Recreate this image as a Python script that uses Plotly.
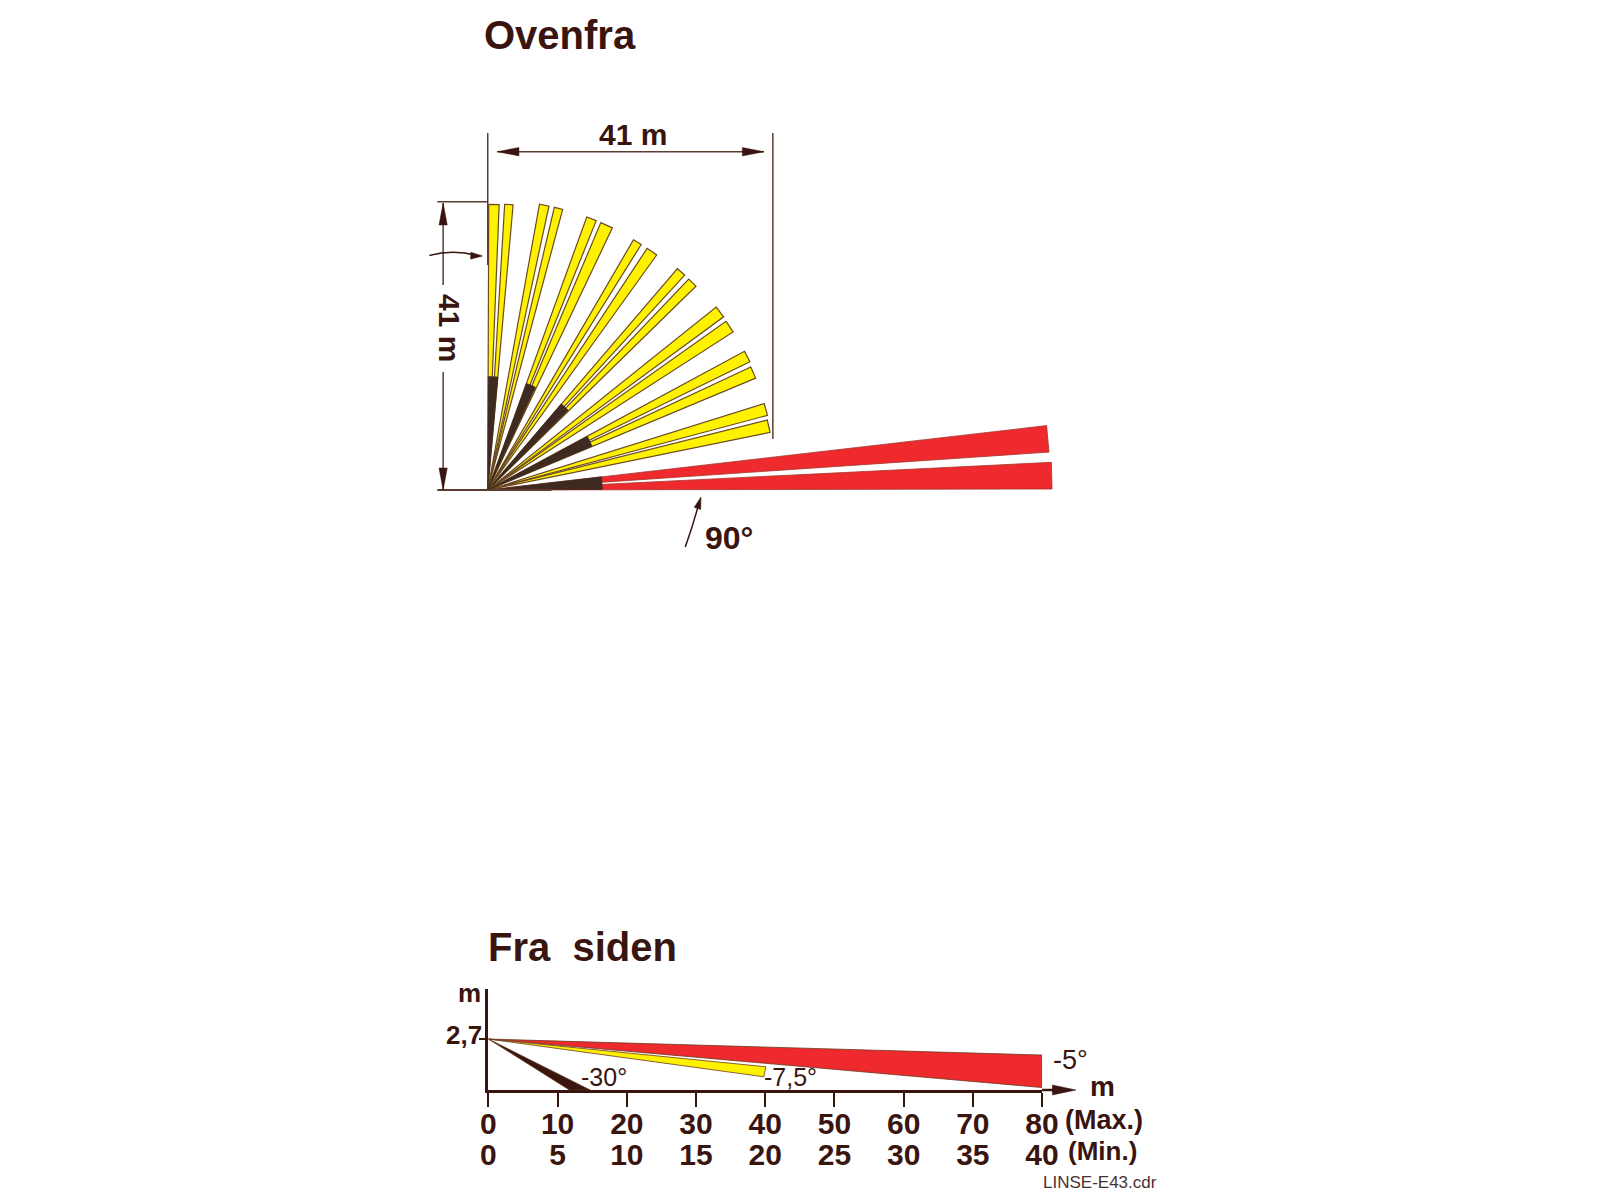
import numpy as np
import plotly.graph_objects as go

# top view: beams as angle from the vertical (deg) and range (m)
YELLOW_START = [0.2, 3.4, 10.3, 13.3, 20.0, 23.0, 30.3, 33.5, 40.7, 43.7, 51.4, 54.8, 61.7, 65.0, 72.7, 76.0]
YELLOW_END = [2.3, 5.1, 12.2, 15.0, 22.0, 25.5, 32.1, 35.8, 42.6, 45.7, 53.8, 57.3, 64.0, 67.4, 75.1, 78.5]
YELLOW_RANGE = [40.5, 40.6, 41.2, 41.2, 41.2, 41.2, 41.1, 41.1, 41.4, 41.4, 41.6, 41.5, 41.5, 41.3, 41.2, 41.0]
RED_START = [83.45, 87.2]
RED_END = [86.15, 89.9]
RED_RANGE = [80.05, 80.3]
DARK_START = [0.2, 20.0, 40.6, 61.8, 83.4]
DARK_END = [5.2, 25.0, 45.4, 67.3, 89.7]
DARK_RANGE = [16.1, 16.1, 16.1, 16.1, 16.3]

# side view: beam outlines in m
SIDE_RED_X = [0, 80, 80]
SIDE_RED_Y = [2.7, 1.85, 0.13]
SIDE_YELLOW_X = [0, 40.1, 39.8]
SIDE_YELLOW_Y = [2.7, 1.23, 0.7]
SIDE_DARK_X = [0, 14.7, 11.7]
SIDE_DARK_Y = [2.7, 0, 0]

MAX_TICKS = [0, 10, 20, 30, 40, 50, 60, 70, 80]
MIN_TICKS = [0, 5, 10, 15, 20, 25, 30, 35, 40]

INK = '#3a1510'
DIM = '#5c3b30'
YELLOW = '#fff200'
RED = '#ee2a2e'
DARK = '#3e2a20'
FONT = 'Liberation Sans'

# the page body has an 8px margin, so everything is placed in page pixels
PAD = 8
W = 1584
H = 1184
OX, OY = 487.3, 490
M_PX_X = 7.14
M_PX_Y = 7.05


def fx(x):
    return (x - PAD) / W


def fy(y):
    return 1 - (y - PAD) / H


def wedge(start, end, r):
    a = np.radians([start, end])
    return [0, r * np.sin(a[0]), r * np.sin(a[1]), 0], [0, r * np.cos(a[0]), r * np.cos(a[1]), 0]


fig = go.Figure()


def add_wedges(starts, ends, ranges, fill, edge, width):
    for s, e, r in zip(starts, ends, ranges):
        x, y = wedge(s, e, r)
        fig.add_trace(go.Scatter(x=x, y=y, mode='lines', fill='toself', fillcolor=fill,
                                 line=dict(color=edge, width=width), hoverinfo='skip'))


add_wedges(YELLOW_START, YELLOW_END, YELLOW_RANGE, YELLOW, '#6b4a20', 1.2)
add_wedges(RED_START, RED_END, RED_RANGE, RED, '#a5342a', 0.8)
add_wedges(DARK_START, DARK_END, DARK_RANGE, DARK, DARK, 0.6)

for sx, sy, fill in [(SIDE_RED_X, SIDE_RED_Y, RED), (SIDE_YELLOW_X, SIDE_YELLOW_Y, YELLOW), (SIDE_DARK_X, SIDE_DARK_Y, INK)]:
    fig.add_trace(go.Scatter(x=sx + sx[:1], y=sy + sy[:1], xaxis='x2', yaxis='y2', mode='lines', fill='toself',
                             fillcolor=fill, line=dict(color='#6b3a20', width=0.8), hoverinfo='skip'))

# keeps the second scale (Min.) on the page
fig.add_trace(go.Scatter(x=MIN_TICKS, y=[0] * len(MIN_TICKS), xaxis='x3', yaxis='y2', mode='markers',
                         marker=dict(opacity=0), hoverinfo='skip'))


def line(x0, y0, x1, y1, color=DIM, width=1.5):
    return dict(type='line', xref='paper', yref='paper', x0=fx(x0), y0=fy(y0), x1=fx(x1), y1=fy(y1),
                line=dict(color=color, width=width))


def head(tx, ty, dx, dy, length=22, half=4.2, color=INK):
    # narrow filled arrow head, tip at (tx, ty), pointing along (dx, dy)
    bx, by = tx - dx * length, ty - dy * length
    pts = [(tx, ty), (bx - dy * half, by + dx * half), (bx + dy * half, by - dx * half)]
    path = 'M ' + ' L '.join(f'{fx(a):.5f},{fy(b):.5f}' for a, b in pts) + ' Z'
    return dict(type='path', xref='paper', yref='paper', path=path, fillcolor=color, line=dict(color=color, width=0.5))


arc = f'M {fx(428):.5f},{fy(255.5):.5f} Q {fx(452):.5f},{fy(249):.5f} {fx(476):.5f},{fy(255.5):.5f}'
curve = f'M {fx(688):.5f},{fy(547):.5f} Q {fx(696):.5f},{fy(525):.5f} {fx(702):.5f},{fy(503):.5f}'

shapes = [
    line(487.3, 133, 487.3, 265),
    line(777, 133, 777, 439),
    line(436, 201.7, 487.3, 201.7),
    line(436, 490, 552, 490, width=2),
    line(497, 151.7, 768, 151.7),
    line(442, 203, 442, 285),
    line(442, 372, 442, 490),
    head(497, 151.7, -1, 0),
    head(768, 151.7, 1, 0),
    head(442, 203, 0, -1),
    head(442, 490, 0, 1),
    dict(type='path', xref='paper', yref='paper', path=arc, line=dict(color=INK, width=1.5)),
    head(482, 256, 1, 0.03, length=12, half=3.5),
    dict(type='path', xref='paper', yref='paper', path=curve, line=dict(color=INK, width=1.5)),
    head(704, 497, 0.3, -0.95, length=12, half=3.5),
    # x axis runs on past 80 into an arrow
    line(1050.5, 1090, 1068, 1090, color=INK, width=2.5),
    head(1085, 1090, 1, 0, length=24, half=5),
]


def label(text, x, y, size, bold=True, angle=0, anchor='center', color=INK):
    return dict(text=f'<b>{text}</b>' if bold else text, x=fx(x), y=fy(y), xref='paper', yref='paper',
                showarrow=False, xanchor=anchor, yanchor='middle', textangle=angle,
                font=dict(family=FONT, size=size, color=color))


annotations = [
    label('Ovenfra', 481, 35, 40, anchor='left'),
    label('Fra\u00a0\u00a0siden', 486, 947, 40, anchor='left'),
    label('41\u00a0m', 635, 135, 30),
    label('41\u00a0m', 449, 328, 30, angle=90),
    label('90°', 732, 538, 32),
    label('m', 469, 993, 26),
    label('2,7', 483, 1035, 26, anchor='right'),
    label('m', 1112, 1086, 28),
    label('-5°', 1079, 1060, 27, bold=False),
    label('-7,5°', 795, 1077, 25, bold=False),
    label('-30°', 605, 1077, 25, bold=False),
    label('(Max.)', 1113, 1120, 27),
    label('(Min.)', 1112, 1151, 26),
    label('LINSE-E43.cdr', 1109, 1182, 17, bold=False, color='#4a3030'),
]

tick_font = dict(family=FONT, size=30, color=INK)
x_dom = [fx(488), fx(1050.5)]
y_dom = [fy(1090), fy(989)]

fig.update_layout(
    width=W,
    height=H,
    margin=dict(l=0, r=0, t=0, b=0),
    paper_bgcolor='white',
    plot_bgcolor='white',
    showlegend=False,
    font=dict(family=FONT, color=INK),
    shapes=shapes,
    annotations=annotations,
    xaxis=dict(visible=False, domain=[0, 1], range=[(PAD - OX) / M_PX_X, (PAD + W - OX) / M_PX_X]),
    yaxis=dict(visible=False, domain=[0, 1], range=[(OY - PAD - H) / M_PX_Y, (OY - PAD) / M_PX_Y]),
    xaxis2=dict(domain=x_dom, range=[0, 80], anchor='y2', showgrid=False, zeroline=False,
                showline=True, linecolor=INK, linewidth=2.5,
                ticks='outside', ticklen=14, tickwidth=2, tickcolor=INK,
                tickmode='array', tickvals=MAX_TICKS, ticktext=[f'<b>{v}</b>' for v in MAX_TICKS],
                tickangle=0, tickfont=tick_font, ticklabelstandoff=-9),
    xaxis3=dict(domain=x_dom, range=[0, 40], anchor='y2', overlaying='x2', side='bottom', showgrid=False,
                zeroline=False, showline=False, ticks='',
                tickmode='array', tickvals=MIN_TICKS, ticktext=[f'<b>{v}</b>' for v in MIN_TICKS],
                tickangle=0, tickfont=tick_font, ticklabelstandoff=44),
    yaxis2=dict(domain=y_dom, range=[0, 5.35], anchor='x2', showgrid=False, zeroline=False,
                showline=True, linecolor=INK, linewidth=2.5,
                ticks='outside', ticklen=7, tickwidth=2, tickcolor=INK,
                tickmode='array', tickvals=[2.7], ticktext=[' '],
                tickfont=dict(family=FONT, size=25, color=INK)),
)

fig.write_html("out.html")
